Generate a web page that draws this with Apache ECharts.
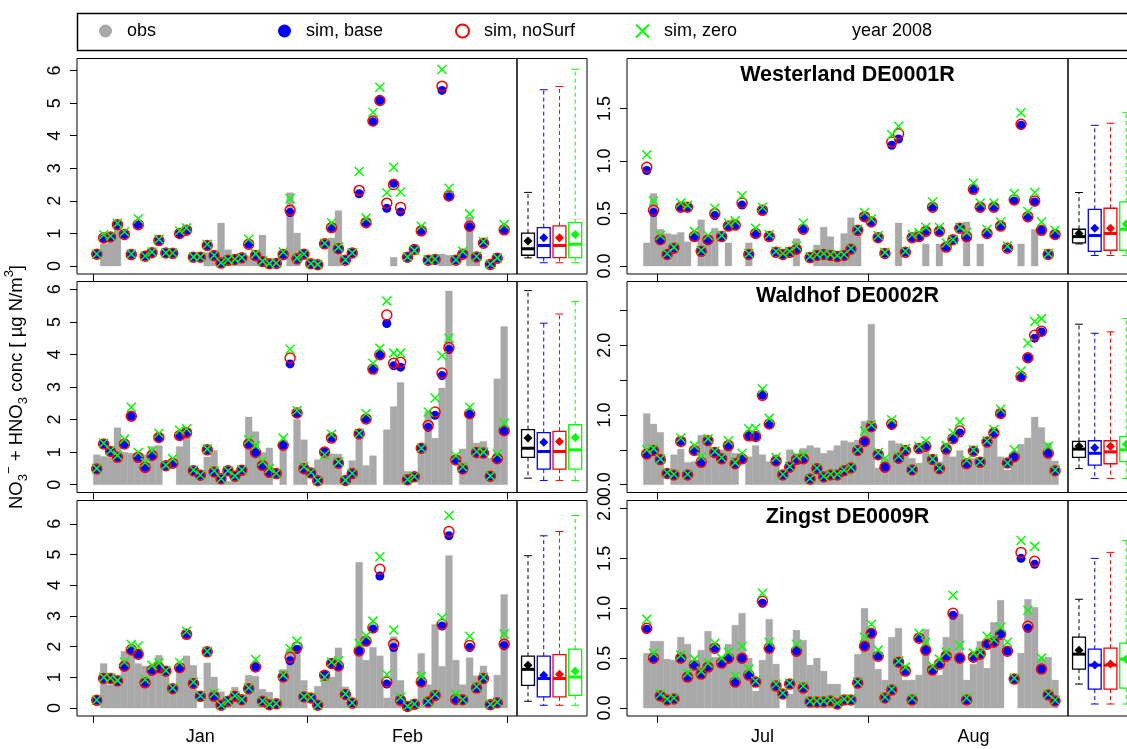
<!DOCTYPE html>
<html><head><meta charset="utf-8">
<script src="https://cdn.jsdelivr.net/npm/echarts@6/dist/echarts.min.js"></script>
<style>html,body{margin:0;padding:0;background:#fff}#c{width:1127px;height:749px}</style>
</head><body><div id="c"></div>
<script>
// ---------------- DATA ----------------
const stationNames = ['Westerland DE0001R', 'Waldhof DE0002R', 'Zingst DE0009R'];
const yearLabel = 'year 2008';
const seriesNames = ['obs', 'sim, base', 'sim, noSurf', 'sim, zero'];

// winter period: days counted from 2008-01-01, summer period: days from 2008-07-01
const winterMonths = ['Jan', 'Feb'];
const winterMonthStarts = [0, 31, 60];
const summerMonths = ['Jul', 'Aug'];
const summerMonthStarts = [0, 31, 62];
const winterFirstDay = 0;   // 2008-01-01 (60 days)
const summerFirstDay = -2;  // 2008-06-29 (61 days)

// Westerland, Jan-Feb
const westWinObs = [null,0.68,0.72,1.25,null,null,null,null,null,null,null,null,null,null,null,null,0.42,0.40,1.32,0.50,0.30,0.30,0.30,0.30,0.95,0.20,0.15,null,2.25,1.01,null,null,null,null,0.86,1.70,null,null,null,null,null,null,null,0.27,null,null,null,null,null,null,0.37,0.33,null,null,1.50,0.30,null,null,null,null];
const westWinBase = [0.36,0.84,0.89,1.27,0.97,0.35,1.27,0.30,0.41,0.78,0.40,0.39,0.99,1.09,0.27,0.27,0.63,0.32,0.09,0.18,0.20,0.25,0.67,0.32,0.14,0.07,0.08,0.35,1.64,0.22,0.36,0.07,0.04,0.68,1.18,0.53,0.18,0.40,2.22,1.33,4.43,5.08,1.77,2.54,1.66,0.27,0.51,1.08,0.18,0.20,5.39,2.13,0.18,0.36,1.20,0.28,0.70,0.05,0.24,1.11];
const westWinNoSurf = [0.36,0.86,0.89,1.27,0.97,0.35,1.27,0.30,0.41,0.78,0.40,0.39,1.00,1.10,0.27,0.27,0.63,0.32,0.09,0.18,0.20,0.25,0.67,0.32,0.14,0.07,0.08,0.35,1.71,0.22,0.36,0.07,0.04,0.68,1.18,0.53,0.18,0.40,2.32,1.33,4.45,5.08,1.93,2.50,1.80,0.27,0.51,1.08,0.18,0.20,5.52,2.15,0.18,0.36,1.22,0.28,0.70,0.05,0.24,1.11];
const westWinZero = [0.37,0.96,0.92,1.31,1.05,0.37,1.45,0.31,0.43,0.82,0.41,0.40,1.08,1.17,0.28,0.28,0.67,0.33,0.10,0.19,0.21,0.26,0.82,0.38,0.15,0.08,0.09,0.43,2.07,0.25,0.37,0.08,0.05,0.70,1.33,0.58,0.19,0.41,2.90,1.47,4.72,5.49,2.25,3.03,2.27,0.28,0.48,1.22,0.19,0.21,6.03,2.39,0.19,0.45,1.60,0.29,0.75,0.06,0.25,1.27];
// box stats: [low whisker, q1, median, q3, high whisker, mean] for obs, base, noSurf, zero
const westWinBox = [[0.25,0.33,0.53,1.01,2.26,0.77],[0.10,0.26,0.63,1.18,5.41,0.87],[0.10,0.26,0.63,1.23,5.51,0.87],[0.10,0.26,0.67,1.33,6.04,0.97]];

// Westerland, Jun 29 - Aug 28
const westSumObs = [0.22,0.69,0.35,0.31,0.30,0.32,0.23,null,0.44,0.29,0.36,null,0.22,null,null,0.22,null,null,null,null,null,null,0.26,null,null,0.20,0.37,0.28,0.10,0.31,0.46,0.36,null,null,null,null,null,0.41,null,null,null,0.21,null,0.21,null,null,null,0.42,null,0.21,null,null,null,null,null,0.21,null,0.35,null,null,null];
const westSumBase = [0.91,0.51,0.25,0.11,0.17,0.56,0.56,0.28,0.14,0.25,0.48,0.28,0.38,0.39,0.58,0.11,0.31,0.53,0.28,0.13,0.11,0.13,0.16,0.35,0.08,0.10,0.11,0.10,0.09,0.10,0.16,0.34,0.47,0.42,0.27,0.12,1.15,1.21,0.13,0.27,0.28,0.33,0.56,0.33,0.18,0.25,0.36,0.27,0.73,0.56,0.31,0.56,0.38,0.17,0.62,1.34,0.47,0.61,0.34,0.11,0.30];
const westSumNoSurf = [0.94,0.53,0.25,0.11,0.17,0.56,0.56,0.28,0.14,0.25,0.50,0.28,0.38,0.39,0.60,0.11,0.31,0.53,0.28,0.13,0.11,0.13,0.16,0.35,0.08,0.10,0.11,0.10,0.09,0.10,0.16,0.34,0.47,0.42,0.27,0.12,1.18,1.26,0.13,0.27,0.28,0.33,0.56,0.33,0.18,0.25,0.36,0.28,0.73,0.56,0.31,0.56,0.38,0.17,0.63,1.35,0.47,0.62,0.34,0.11,0.30];
const westSumZero = [1.06,0.62,0.29,0.12,0.18,0.60,0.58,0.33,0.15,0.29,0.55,0.29,0.41,0.43,0.67,0.12,0.36,0.56,0.30,0.14,0.12,0.14,0.19,0.41,0.09,0.11,0.12,0.11,0.10,0.11,0.17,0.35,0.51,0.45,0.29,0.13,1.25,1.33,0.14,0.30,0.32,0.37,0.61,0.37,0.22,0.25,0.37,0.32,0.79,0.60,0.35,0.60,0.42,0.19,0.69,1.46,0.52,0.70,0.42,0.12,0.34];
const westSumBox = [[0.21,0.22,0.28,0.35,0.70,0.31],[0.10,0.14,0.29,0.54,1.34,0.36],[0.10,0.15,0.31,0.55,1.36,0.36],[0.10,0.15,0.35,0.61,1.46,0.40]];

// Waldhof, Jan-Feb
const waldWinObs = [0.92,0.87,0.84,1.75,1.00,0.97,0.94,0.92,1.17,1.20,null,null,1.17,1.66,0.57,0.40,0.85,1.05,0.20,0.10,0.20,0.45,2.08,1.63,0.99,1.13,null,1.22,null,2.00,1.38,null,0.77,0.92,0.95,0.94,null,0.74,1.71,0.59,0.89,null,1.69,2.40,3.14,0.41,null,1.12,2.25,1.43,2.97,5.95,null,1.10,2.25,1.28,1.33,0.82,3.25,4.86];
const waldWinBase = [0.48,1.25,1.02,0.84,1.25,2.10,0.84,0.53,0.90,1.45,0.58,0.66,1.51,1.60,0.43,0.29,1.07,0.39,0.18,0.43,0.26,0.44,1.25,0.99,0.59,0.38,0.34,1.21,3.71,2.18,0.49,0.36,0.12,1.00,1.43,0.66,0.13,0.34,1.56,2.02,3.55,3.99,4.95,3.65,3.61,0.15,0.24,1.12,1.76,2.13,3.35,4.15,0.76,0.48,2.16,0.99,0.97,0.26,0.80,1.64];
const waldWinNoSurf = [0.48,1.25,1.02,0.84,1.25,2.10,0.84,0.53,0.90,1.45,0.58,0.66,1.51,1.60,0.43,0.29,1.07,0.39,0.18,0.43,0.26,0.44,1.25,0.99,0.59,0.38,0.34,1.21,3.89,2.20,0.49,0.36,0.12,1.00,1.43,0.66,0.13,0.34,1.56,2.02,3.55,3.99,5.21,3.73,3.76,0.15,0.24,1.12,1.82,2.23,3.43,4.21,0.76,0.48,2.18,0.99,0.97,0.26,0.80,1.66];
const waldWinZero = [0.50,1.28,1.05,0.90,1.40,2.38,0.99,0.68,1.04,1.58,0.60,0.80,1.67,1.72,0.45,0.30,1.10,0.43,0.19,0.43,0.27,0.46,1.38,1.20,0.72,0.50,0.35,1.43,4.16,2.28,0.55,0.38,0.13,0.92,1.55,0.70,0.14,0.35,1.58,2.18,3.73,4.19,5.64,4.04,4.04,0.16,0.25,1.12,2.23,2.66,3.96,4.50,0.89,0.55,2.38,1.02,1.00,0.27,0.94,1.89];
const waldWinBox = [[0.20,0.84,1.12,1.69,5.96,1.43],[0.13,0.48,1.02,1.60,4.96,1.30],[0.13,0.48,1.02,1.64,5.24,1.33],[0.13,0.48,1.07,1.84,5.62,1.45]];

// Waldhof, Jun 29 - Aug 28
const waldSumObs = [1.02,0.87,0.75,null,0.43,0.51,0.32,0.33,0.71,0.64,0.48,0.50,0.61,0.45,null,0.40,0.56,0.43,0.33,0.43,0.19,0.50,0.44,0.52,0.56,0.53,0.45,0.49,0.56,0.63,0.61,0.64,0.91,2.30,0.24,0.38,0.63,0.59,0.51,0.38,0.31,0.62,0.42,0.33,0.60,0.40,0.49,0.36,0.38,0.38,0.56,0.81,0.40,0.21,0.36,0.58,0.67,0.97,0.82,0.60,0.34];
const waldSumBase = [0.44,0.49,0.36,0.16,0.14,0.62,0.14,0.49,0.32,0.63,0.46,0.37,0.56,0.30,0.37,0.70,0.69,1.28,0.87,0.34,0.14,0.25,0.36,0.37,0.08,0.23,0.11,0.14,0.14,0.20,0.24,0.49,0.62,0.82,0.43,0.25,0.85,0.38,0.49,0.21,0.52,0.55,0.36,0.23,0.51,0.66,0.74,0.30,0.48,0.32,0.61,0.74,1.02,0.31,0.40,1.55,1.82,2.10,2.19,0.45,0.20];
const waldSumNoSurf = [0.44,0.49,0.36,0.16,0.14,0.62,0.14,0.49,0.32,0.63,0.46,0.37,0.56,0.30,0.37,0.70,0.69,1.28,0.87,0.34,0.14,0.25,0.36,0.37,0.08,0.23,0.11,0.14,0.14,0.20,0.24,0.49,0.62,0.83,0.43,0.25,0.87,0.38,0.49,0.21,0.52,0.55,0.36,0.23,0.51,0.66,0.77,0.30,0.48,0.32,0.61,0.74,1.02,0.31,0.40,1.55,1.82,2.14,2.20,0.45,0.20];
const waldSumZero = [0.50,0.52,0.37,0.17,0.15,0.67,0.15,0.56,0.40,0.66,0.48,0.39,0.63,0.32,0.45,0.80,0.81,1.37,0.95,0.39,0.15,0.26,0.41,0.43,0.09,0.24,0.12,0.15,0.15,0.21,0.25,0.50,0.77,0.86,0.46,0.38,0.93,0.41,0.52,0.22,0.55,0.63,0.37,0.24,0.56,0.74,0.90,0.35,0.50,0.33,0.63,0.79,1.08,0.31,0.50,1.63,2.03,2.34,2.38,0.55,0.21];
const waldSumBox = [[0.23,0.39,0.51,0.62,2.30,0.55],[0.09,0.28,0.45,0.63,2.17,0.53],[0.09,0.30,0.47,0.63,2.19,0.55],[0.09,0.33,0.50,0.69,2.38,0.58]];

// Zingst, Jan-Feb
const zingWinObs = [null,1.45,0.76,1.07,1.85,1.99,1.45,1.37,1.32,1.72,1.28,0.55,1.30,1.70,1.39,null,1.47,1.01,0.53,0.23,0.68,0.30,1.07,1.04,0.61,0.52,null,1.26,1.94,2.05,0.90,null,0.71,1.09,1.01,1.96,0.69,null,4.75,1.56,1.98,1.70,0.33,2.32,0.90,null,null,1.78,0.76,2.72,1.36,4.97,1.56,0.76,1.64,1.05,1.37,null,1.07,3.70];
const zingWinBase = [0.25,0.96,0.96,0.88,1.36,1.86,1.75,0.82,1.23,1.31,1.20,0.63,1.31,2.40,0.80,0.38,1.83,0.38,0.09,0.22,0.38,0.27,0.63,1.34,0.22,0.11,0.14,1.01,1.54,1.91,0.36,0.33,0.09,1.07,1.45,1.37,0.44,0.16,1.86,2.16,2.57,4.30,0.78,1.97,0.25,0.05,0.12,0.85,0.20,0.41,2.67,5.61,0.28,0.27,1.97,0.65,0.96,0.11,0.17,2.03];
const zingWinNoSurf = [0.25,0.96,0.96,0.88,1.36,1.90,1.75,0.82,1.23,1.31,1.20,0.63,1.31,2.40,0.80,0.38,1.83,0.38,0.09,0.22,0.38,0.27,0.63,1.34,0.22,0.11,0.14,1.01,1.65,1.99,0.36,0.33,0.09,1.07,1.45,1.37,0.44,0.16,1.86,2.18,2.62,4.52,0.85,2.08,0.25,0.05,0.12,0.85,0.20,0.41,2.73,5.75,0.28,0.27,2.04,0.65,0.96,0.11,0.17,2.08];
const zingWinZero = [0.26,1.00,0.98,0.90,1.50,2.07,2.02,0.93,1.39,1.47,1.22,0.65,1.48,2.50,0.85,0.40,1.85,0.48,0.10,0.23,0.40,0.28,0.66,1.58,0.23,0.12,0.15,1.08,1.94,2.18,0.38,0.35,0.10,1.00,1.50,1.54,0.46,0.17,2.10,2.35,2.83,4.93,1.09,2.54,0.35,0.06,0.13,1.03,0.22,0.45,2.94,6.27,0.45,0.28,2.34,0.70,1.00,0.12,0.19,2.41];
const zingWinBox = [[0.22,0.74,1.26,1.69,4.96,1.39],[0.09,0.36,0.96,1.69,5.61,1.07],[0.09,0.36,0.96,1.74,5.75,1.10],[0.09,0.41,1.01,1.92,6.27,1.20]];

// Zingst, Jun 29 - Aug 28
const zingSumObs = [0.55,0.67,0.67,0.49,0.48,0.71,0.64,0.46,0.58,0.77,0.51,0.51,0.64,0.83,0.95,0.50,0.17,0.48,0.89,0.44,null,0.14,0.78,0.68,0.43,0.50,0.37,0.24,0.24,null,null,0.54,1.00,0.78,0.39,0.28,0.71,0.80,0.28,0.28,0.33,0.79,0.33,0.33,0.71,0.95,0.94,0.28,0.44,0.67,0.40,0.86,1.08,null,null,0.55,1.09,1.01,0.50,0.51,0.28];
const zingSumBase = [0.79,0.50,0.12,0.08,0.09,0.50,0.31,0.43,0.34,0.41,0.60,0.45,0.50,0.26,0.50,0.33,0.26,1.05,0.60,0.22,0.14,0.24,0.57,0.20,0.06,0.06,0.06,0.07,0.04,0.08,0.08,0.25,0.62,0.75,0.52,0.10,0.18,0.46,0.37,0.08,0.70,0.58,0.38,0.44,0.52,0.93,0.50,0.08,0.51,0.54,0.64,0.66,0.74,0.57,0.29,1.50,0.80,1.44,0.39,0.13,0.07];
const zingSumNoSurf = [0.80,0.50,0.12,0.08,0.09,0.50,0.31,0.43,0.34,0.41,0.60,0.45,0.50,0.26,0.50,0.33,0.26,1.07,0.60,0.22,0.14,0.24,0.57,0.20,0.06,0.06,0.06,0.07,0.04,0.08,0.08,0.25,0.62,0.75,0.52,0.10,0.18,0.46,0.37,0.08,0.70,0.58,0.38,0.44,0.52,0.95,0.50,0.08,0.51,0.54,0.64,0.66,0.74,0.57,0.29,1.56,0.82,1.47,0.39,0.13,0.07];
const zingSumZero = [0.89,0.55,0.14,0.09,0.10,0.53,0.35,0.49,0.37,0.45,0.65,0.50,0.56,0.32,0.62,0.39,0.27,1.15,0.66,0.24,0.15,0.25,0.64,0.22,0.07,0.07,0.07,0.08,0.05,0.09,0.09,0.26,0.71,0.84,0.58,0.11,0.19,0.47,0.41,0.10,0.75,0.66,0.42,0.49,0.56,1.13,0.63,0.10,0.55,0.56,0.72,0.69,0.81,0.66,0.30,1.68,0.98,1.62,0.50,0.14,0.08];
const zingSumBox = [[0.24,0.39,0.54,0.71,1.09,0.58],[0.04,0.19,0.43,0.59,1.50,0.43],[0.04,0.19,0.43,0.60,1.56,0.44],[0.04,0.20,0.49,0.65,1.68,0.49]];

// y tick values
const winterYTicks = [0, 1, 2, 3, 4, 5, 6];
const summerYTicks = [[0, 0.5, 1, 1.5], [0, 0.5, 1, 1.5, 2, 2.5], [0, 0.5, 1, 1.5, 2]];
const summerYLabels = [[0, 0.5, 1, 1.5], [0, 1, 2], [0, 0.5, 1, 1.5, 2]];

// ---------------- LAYOUT / STYLE ----------------
const FONT = '"Liberation Sans", Arial, Helvetica, sans-serif';
const COLS = [{tl: 77, tw: 440, bl: 517, bw: 70}, {tl: 627, tw: 441, bl: 1068, bw: 70}];
const ROWS = [{top: 58.5, h: 215.5}, {top: 281.5, h: 211}, {top: 500.5, h: 215.5}];
const YRANGE = [[[-0.245, 6.37], [-0.076, 1.976]], [[-0.24, 6.24], [-0.112, 2.912]], [[-0.26, 6.76], [-0.08, 2.08]]];
const XRANGE = [[-2.36, 61.36], [-4.4, 60.4]];
const COL_OBS = '#a9a9a9', COL_BASE = '#0000ff', COL_NOSURF = '#ff0000', COL_ZERO = '#00ff00';
const BOX_COLORS = ['#000000', COL_BASE, COL_NOSURF, COL_ZERO];
const XPATH = 'path://M0,0L10,10M10,0L0,10';
const FS = 18;

const panels = [
  [{obs: westWinObs, base: westWinBase, noSurf: westWinNoSurf, zero: westWinZero, box: westWinBox},
   {obs: westSumObs, base: westSumBase, noSurf: westSumNoSurf, zero: westSumZero, box: westSumBox}],
  [{obs: waldWinObs, base: waldWinBase, noSurf: waldWinNoSurf, zero: waldWinZero, box: waldWinBox},
   {obs: waldSumObs, base: waldSumBase, noSurf: waldSumNoSurf, zero: waldSumZero, box: waldSumBox}],
  [{obs: zingWinObs, base: zingWinBase, noSurf: zingWinNoSurf, zero: zingWinZero, box: zingWinBox},
   {obs: zingSumObs, base: zingSumBase, noSurf: zingSumNoSurf, zero: zingSumZero, box: zingSumBox}]
];
const colMonths = [winterMonths, summerMonths];
const colMonthStarts = [winterMonthStarts, summerMonthStarts];
const colFirstDay = [winterFirstDay, summerFirstDay];

function toPoints(arr, first) {
  const out = [];
  arr.forEach((v, i) => { if (v !== null) out.push([first + i + 0.5, v]); });
  return out;
}

function obsRender(params, api) {
  const x = api.value(0), y = api.value(1);
  const p0 = api.coord([x - 0.5, y]);
  const p1 = api.coord([x + 0.5, 0]);
  return {type: 'rect', shape: {x: p0[0], y: p0[1], width: p1[0] - p0[0], height: p1[1] - p0[1]},
    style: {fill: COL_OBS, stroke: COL_OBS, lineWidth: 0.3}};
}

function boxRender(params, api) {
  const k = api.value(0);
  const lo = api.value(1), q1 = api.value(2), med = api.value(3), q3 = api.value(4), hi = api.value(5), mean = api.value(6);
  const col = BOX_COLORS[params.dataIndex];
  const cx = api.coord([k, med])[0];
  const left = api.coord([k - 0.41, med])[0], right = api.coord([k + 0.41, med])[0];
  const capL = api.coord([k - 0.25, med])[0], capR = api.coord([k + 0.25, med])[0];
  const Y = t => api.coord([k, t])[1];
  const yLo = Y(lo), yQ1 = Y(q1), yMed = Y(med), yQ3 = Y(q3), yHi = Y(hi), yMean = Y(mean);
  const d = 4.5;
  return {type: 'group', children: [
    {type: 'line', shape: {x1: cx, y1: yQ3, x2: cx, y2: yHi}, style: {stroke: col, lineWidth: 1, lineDash: [4, 3]}},
    {type: 'line', shape: {x1: cx, y1: yQ1, x2: cx, y2: yLo}, style: {stroke: col, lineWidth: 1, lineDash: [4, 3]}},
    {type: 'line', shape: {x1: capL, y1: yHi, x2: capR, y2: yHi}, style: {stroke: col, lineWidth: 1}},
    {type: 'line', shape: {x1: capL, y1: yLo, x2: capR, y2: yLo}, style: {stroke: col, lineWidth: 1}},
    {type: 'rect', shape: {x: left, y: yQ3, width: right - left, height: yQ1 - yQ3}, style: {fill: 'none', stroke: col, lineWidth: 1.3}},
    {type: 'line', shape: {x1: left, y1: yMed, x2: right, y2: yMed}, style: {stroke: col, lineWidth: 3}},
    {type: 'polygon', shape: {points: [[cx, yMean - d], [cx + d, yMean], [cx, yMean + d], [cx - d, yMean]]}, style: {fill: col}}
  ]};
}

const grids = [], xAxes = [], yAxes = [], series = [];
const txt = {color: '#000', fontFamily: FONT};

for (let r = 0; r < 3; r++) {
  for (let c = 0; c < 2; c++) {
    const col = COLS[c], row = ROWS[r];
    const gT = grids.length, gB = gT + 1;
    const gridBase = {show: true, borderColor: '#000', borderWidth: 1, backgroundColor: 'transparent', containLabel: false, outerBoundsMode: 'none'};
    grids.push(Object.assign({left: col.tl, top: row.top, width: col.tw, height: row.h}, gridBase));
    grids.push(Object.assign({left: col.bl, top: row.top, width: col.bw, height: row.h}, gridBase));

    const months = colMonths[c], starts = colMonthStarts[c];
    const mids = months.map((m, i) => (starts[i] + starts[i + 1]) / 2);
    xAxes.push({type: 'value', gridIndex: gT, min: XRANGE[c][0], max: XRANGE[c][1],
      axisLine: {show: false, onZero: false}, splitLine: {show: false},
      axisTick: {show: true, customValues: starts, length: 7, lineStyle: {color: '#000', width: 1}},
      axisLabel: {show: r === 2, customValues: mids, margin: 12, fontSize: FS, ...txt,
        formatter: v => { const i = mids.findIndex(m => Math.abs(m - v) < 1e-6); return i >= 0 ? months[i] : ''; }}});
    xAxes.push({type: 'value', gridIndex: gB, min: 0.3, max: 4.75, show: false});

    const yr = YRANGE[r][c];
    const ticks = c === 0 ? winterYTicks : summerYTicks[r];
    const labels = c === 0 ? winterYTicks : summerYLabels[r];
    const yAx = {type: 'value', gridIndex: gT, min: yr[0], max: yr[1],
      axisLine: {show: false, onZero: false}, splitLine: {show: false},
      axisTick: {show: true, customValues: ticks, length: 7, lineStyle: {color: '#000', width: 1}},
      axisLabel: {customValues: labels, rotate: 90, margin: 13, fontSize: FS, ...txt,
        formatter: v => c === 0 ? String(v) : Number(v).toFixed(1)}};
    if (r === 1 && c === 0) {
      Object.assign(yAx, {
        name: '{a|NO}{b|3}{c|\u2212}{a| + HNO}{b|3}{a| conc [ \u00b5g N/m}{c|3}{a|]}',
        nameLocation: 'middle', nameRotate: 90, nameGap: 47,
        nameTextStyle: {...txt, fontSize: 18, rich: {
          a: {fontSize: 18.5, fontFamily: FONT, color: '#000', lineHeight: 27, verticalAlign: 'middle'},
          b: {fontSize: 13, fontFamily: FONT, color: '#000', lineHeight: 13, verticalAlign: 'bottom'},
          c: {fontSize: 13, fontFamily: FONT, color: '#000', lineHeight: 13, verticalAlign: 'top'}}}
      });
    }
    yAxes.push(yAx);
    yAxes.push({type: 'value', gridIndex: gB, min: yr[0], max: yr[1], show: false});

    const p = panels[r][c], first = colFirstDay[c];
    series.push({type: 'custom', name: seriesNames[0], xAxisIndex: gT, yAxisIndex: gT, z: 1,
      itemStyle: {color: COL_OBS}, renderItem: obsRender, data: toPoints(p.obs, first), silent: true});
    series.push({type: 'scatter', name: seriesNames[1], xAxisIndex: gT, yAxisIndex: gT, z: 2, symbol: 'circle', symbolSize: 9,
      itemStyle: {color: COL_BASE, opacity: 1}, data: toPoints(p.base, first), silent: true});
    series.push({type: 'scatter', name: seriesNames[2], xAxisIndex: gT, yAxisIndex: gT, z: 3, symbol: 'circle', symbolSize: 10,
      itemStyle: {color: 'rgba(0,0,0,0)', borderColor: COL_NOSURF, borderWidth: 1.5, opacity: 1}, data: toPoints(p.noSurf, first), silent: true});
    series.push({type: 'scatter', name: seriesNames[3], xAxisIndex: gT, yAxisIndex: gT, z: 4, symbol: XPATH, symbolSize: 9,
      itemStyle: {color: 'rgba(0,0,0,0)', borderColor: COL_ZERO, borderWidth: 1.5, opacity: 1}, data: toPoints(p.zero, first), silent: true});
    series.push({type: 'custom', name: 'box', xAxisIndex: gB, yAxisIndex: gB, z: 2, renderItem: boxRender, silent: true,
      data: p.box.map((s, k) => [k + 1, ...s])});
  }
}

const legendCommon = {top: 22, padding: 0, itemWidth: 13, itemHeight: 13, selectedMode: false,
  itemStyle: {opacity: 1},
  textStyle: {...txt, fontSize: FS, padding: [0, 0, 0, 10]}};
const legends = [
  Object.assign({left: 99, data: [{name: seriesNames[0], icon: 'circle'}]}, legendCommon),
  Object.assign({left: 278, data: [{name: seriesNames[1], icon: 'circle'}]}, legendCommon),
  Object.assign({left: 455, data: [{name: seriesNames[2], icon: 'circle'}]}, legendCommon),
  Object.assign({left: 635, data: [{name: seriesNames[3], icon: XPATH}]}, legendCommon)
];

const titles = [
  {text: yearLabel, left: 852, top: 22, padding: 0, textStyle: {...txt, fontSize: FS, fontWeight: 'normal'}},
  {text: stationNames[0], left: 847.5, top: 64, padding: 0, textAlign: 'center', textStyle: {...txt, fontSize: 21.5, fontWeight: 'bold'}},
  {text: stationNames[1], left: 847.5, top: 285, padding: 0, textAlign: 'center', textStyle: {...txt, fontSize: 21.5, fontWeight: 'bold'}},
  {text: stationNames[2], left: 847.5, top: 506, padding: 0, textAlign: 'center', textStyle: {...txt, fontSize: 21.5, fontWeight: 'bold'}}
];

const chart = echarts.init(document.getElementById('c'), null, {renderer: 'canvas'});
chart.setOption({
  animation: false,
  backgroundColor: '#fff',
  title: titles,
  legend: legends,
  grid: grids,
  xAxis: xAxes,
  yAxis: yAxes,
  series: series,
  graphic: [{type: 'rect', shape: {x: 77.5, y: 13.5, width: 1100, height: 37}, style: {fill: 'none', stroke: '#000', lineWidth: 1.5}, silent: true}]
});
</script></body></html>
